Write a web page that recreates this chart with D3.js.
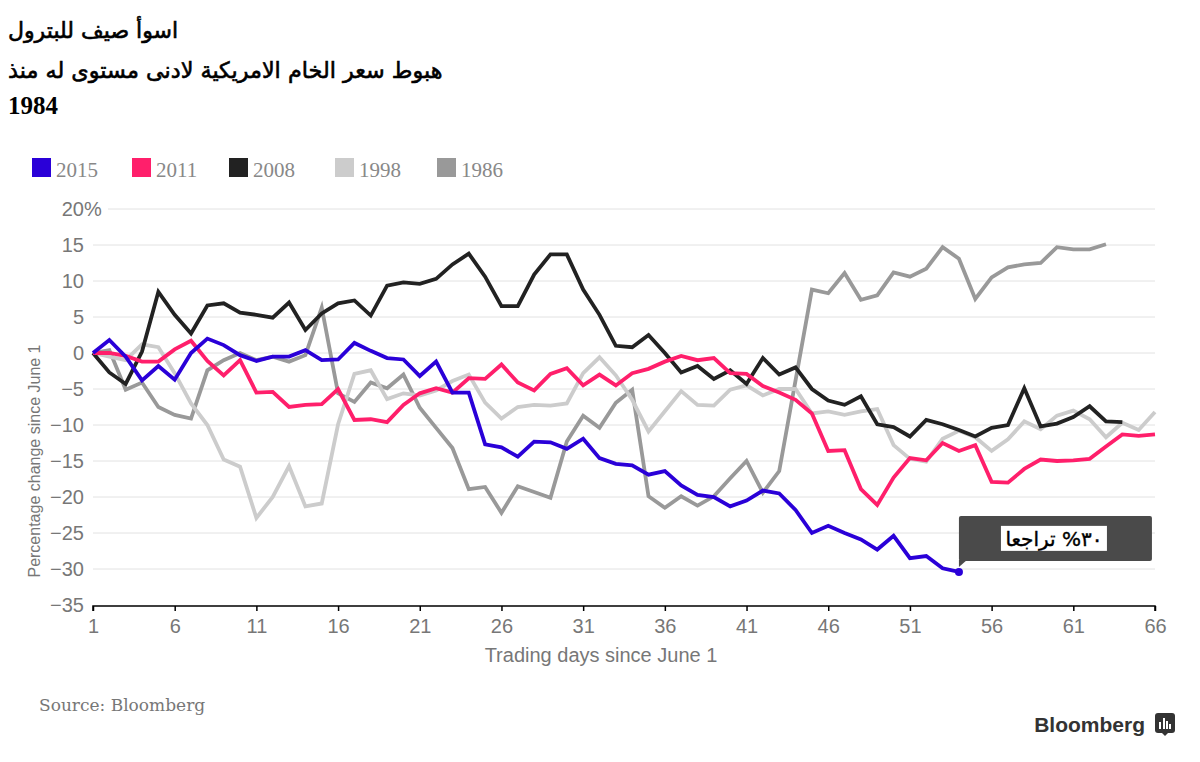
<!DOCTYPE html>
<html><head><meta charset="utf-8">
<script src="https://cdn.jsdelivr.net/npm/d3@7"></script>
<style>body{margin:0;background:#fff} svg{display:block}</style>
</head><body>
<svg id="c" width="1200" height="762"></svg>
<script>
// ---------- data ----------
const titleLine1 = "اسوأ صيف للبترول";
const titleLine2 = "هبوط سعر الخام الامريكية لادنى مستوى له منذ";
const titleLine3 = "1984";
const xAxisTitle = "Trading days since June 1";
const yAxisTitle = "Percentage change since June 1";
const sourceText = "Source: Bloomberg";
const annotationText = "٣٠% تراجعا";

const xTicks = [1, 6, 11, 16, 21, 26, 31, 36, 41, 46, 51, 56, 61, 66];
const yTicks = [-35, -30, -25, -20, -15, -10, -5, 0, 5, 10, 15, 20];

const seriesNames = ["2015", "2011", "2008", "1998", "1986"];
const seriesColors = ["#2a00d8", "#ff1f6b", "#222222", "#cccccc", "#999999"];

const v2015 = [0, 1.8, -0.5, -3.8, -1.8, -3.7, 0, 2.0, 1.1, -0.3, -1.1, -0.5, -0.5, 0.4, -1.0, -0.9,
  1.4, 0.3, -0.7, -0.9, -3.2, -1.2, -5.5, -5.5, -12.7, -13.1, -14.4, -12.3, -12.4, -13.3, -11.9,
  -14.6, -15.4, -15.6, -16.9, -16.4, -18.4, -19.7, -20.0, -21.3, -20.5, -19.1, -19.5, -21.8, -25.0,
  -24.0, -25.0, -25.9, -27.3, -25.4, -28.5, -28.2, -29.9, -30.4];
const v2011 = [0, 0, -0.4, -1.2, -1.2, 0.5, 1.7, -1.1, -3.1, -1.0, -5.5, -5.4, -7.5, -7.2, -7.1, -5.0,
  -9.3, -9.2, -9.6, -7.2, -5.6, -4.9, -5.5, -3.5, -3.6, -1.6, -4.1, -5.2, -2.9, -2.1, -4.5, -3.0,
  -4.5, -2.8, -2.2, -1.2, -0.4, -1.0, -0.7, -2.8, -2.9, -4.6, -5.5, -6.5, -8.4, -13.6, -13.5, -18.9,
  -21.1, -17.3, -14.6, -14.9, -12.5, -13.6, -12.8, -17.9, -18.0, -16.1, -14.8, -15.0, -14.9, -14.7,
  -13.0, -11.3, -11.5, -11.3];
const v2008 = [0, -2.7, -4.3, 0.2, 8.5, 5.3, 2.7, 6.6, 6.9, 5.6, 5.3, 4.9, 7.0, 3.2, 5.5, 6.9, 7.3,
  5.2, 9.35, 9.8, 9.6, 10.3, 12.3, 13.8, 10.6, 6.5, 6.5, 10.9, 13.7, 13.7, 8.8, 5.3, 1.0, 0.8, 2.5,
  0, -2.7, -1.8, -3.6, -2.4, -4.3, -0.7, -3.0, -2.0, -5.0, -6.6, -7.2, -6.0, -9.9, -10.3, -11.6,
  -9.3, -9.9, -10.7, -11.6, -10.4, -10.0, -4.9, -10.2, -9.8, -8.9, -7.4, -9.5, -9.6];
const v1998 = [0, -0.5, -1.0, 1.2, 0.8, -2.8, -7.0, -10.0, -14.8, -15.8, -22.9, -20.0, -15.7, -21.3,
  -20.9, -9.9, -2.9, -2.4, -6.4, -5.6, -5.9, -5.2, -3.9, -3.0, -6.9, -9.1, -7.5, -7.2, -7.3, -7.0,
  -2.8, -0.6, -3.1, -6.5, -10.9, -8.1, -5.3, -7.2, -7.3, -5.1, -4.5, -5.9, -5.0, -5.0, -8.4, -8.1,
  -8.6, -8.1, -7.8, -12.8, -14.7, -15.1, -11.9, -10.8, -11.7, -13.6, -12.0, -9.5, -10.6, -8.7, -8.0,
  -9.2, -11.7, -9.7, -10.7, -8.2];
const v1986 = [0, 0.4, -5.1, -4.1, -7.5, -8.6, -9.1, -2.4, -1.0, 0, -1.0, -0.5, -1.2, -0.3, 6.3, -5.6,
  -6.8, -4.1, -4.9, -3.0, -7.6, -10.4, -13.2, -18.9, -18.6, -22.2, -18.5, -19.3, -20.1, -12.3, -8.7,
  -10.4, -6.9, -5.1, -19.9, -21.5, -19.9, -21.2, -19.9, -17.4, -15.0, -19.4, -16.4, -3.8, 8.8, 8.3,
  11.1, 7.4, 8.0, 11.2, 10.6, 11.7, 14.7, 13.1, 7.5, 10.5, 11.9, 12.3, 12.5, 14.7, 14.4, 14.4, 15.1];

const seriesValues = [v2015, v2011, v2008, v1998, v1986];

// ---------- chart ----------
const svg = d3.select("#c");
const x = d3.scaleLinear().domain([1, 66]).range([93, 1155]);
const y = d3.scaleLinear().domain([-35, 20]).range([605, 209]);

const axisColor = "#777";
const sans = "'Liberation Sans', Arial, sans-serif";
const serif = "'Liberation Serif', 'Times New Roman', serif";
const wideSerif = "'DejaVu Serif', serif";
const arabic = "'DejaVu Sans', sans-serif";

// Title
svg.append("text").attr("x", 8).attr("y", 38).attr("font-family", arabic)
  .attr("font-size", 22).attr("fill", "#000").attr("stroke", "#000").attr("stroke-width", 0.6)
  .text(titleLine1);
svg.append("text").attr("x", 8).attr("y", 78).attr("font-family", arabic)
  .attr("font-size", 22.3).attr("fill", "#000").attr("stroke", "#000").attr("stroke-width", 0.6)
  .text(titleLine2);
svg.append("text").attr("x", 8).attr("y", 114).attr("font-family", serif)
  .attr("font-weight", "bold").attr("font-size", 25).attr("fill", "#000").text(titleLine3);

// Legend
const legendX = [32, 132, 229, 335, 437];
const lg = svg.append("g");
seriesNames.forEach((n, i) => {
  lg.append("rect").attr("x", legendX[i]).attr("y", 158).attr("width", 19).attr("height", 19)
    .attr("fill", seriesColors[i]);
  lg.append("text").attr("x", legendX[i] + 24).attr("y", 177).attr("font-family", serif)
    .attr("font-size", 21).attr("fill", "#888").text(n);
});

// Gridlines
const grid = svg.append("g");
yTicks.filter(t => t > -35).forEach(t => {
  grid.append("line").attr("x1", t === 20 ? 108 : 93).attr("x2", 1155)
    .attr("y1", y(t)).attr("y2", y(t)).attr("stroke", "#e2e2e2").attr("stroke-width", 1);
});

// Y tick labels
const yl = svg.append("g").attr("font-family", sans).attr("font-size", 20).attr("fill", axisColor);
yTicks.forEach(t => {
  yl.append("text").attr("x", 84).attr("y", y(t) + 7).attr("text-anchor", "end").text(d3.format("d")(t));
  if (t === 20) yl.append("text").attr("x", 84).attr("y", y(t) + 7).text("%");
});

// X axis
const xAxis = d3.axisBottom(x).tickValues(xTicks).tickSize(5).tickPadding(8).tickFormat(d3.format("d"));
const xg = svg.append("g").attr("transform", `translate(0,${y(-35) + 1})`).call(xAxis);
xg.select(".domain").attr("stroke", "#000").attr("stroke-width", 1.5).attr("d", `M93,5V0H1155V5`);
xg.selectAll(".tick line").attr("stroke", "#000").attr("stroke-width", 1.5);
xg.selectAll(".tick text").attr("font-family", sans).attr("font-size", 20).attr("fill", axisColor);

// Axis titles
svg.append("text").attr("x", 601).attr("y", 662).attr("text-anchor", "middle")
  .attr("font-family", sans).attr("font-size", 20).attr("fill", axisColor).text(xAxisTitle);
svg.append("text").attr("transform", "translate(40,461) rotate(-90)").attr("text-anchor", "middle")
  .attr("font-family", sans).attr("font-size", 16).attr("fill", axisColor).text(yAxisTitle);

// Lines (draw oldest first so 2015 is on top)
const line = d3.line().x((d, i) => x(i + 1)).y(d => y(d));
const lines = svg.append("g");
for (let i = seriesValues.length - 1; i >= 0; i--) {
  lines.append("path").datum(seriesValues[i]).attr("d", line)
    .attr("fill", "none").attr("stroke", seriesColors[i]).attr("stroke-width", 3.8);
}

// End dot + annotation
const lastIdx = v2015.length - 1;
const px = x(lastIdx + 1), py = y(v2015[lastIdx]);
svg.append("circle").attr("cx", px).attr("cy", py).attr("r", 4).attr("fill", seriesColors[0]);
const ann = svg.append("g");
ann.append("rect").attr("x", px).attr("y", py - 56).attr("width", 193).attr("height", 45)
  .attr("rx", 2).attr("fill", "#4a4a4a");
ann.append("path").attr("d", `M${px},${py - 12}L${px},${py - 5}L${px + 8},${py - 12}Z`).attr("fill", "#4a4a4a");
ann.append("rect").attr("x", px + 42).attr("y", py - 46).attr("width", 106).attr("height", 25).attr("fill", "#fff");
ann.append("text").attr("x", px + 95).attr("y", py - 26).attr("text-anchor", "middle")
  .attr("direction", "rtl").attr("font-family", arabic).attr("font-size", 20).attr("fill", "#000")
  .attr("stroke", "#000").attr("stroke-width", 0.4)
  .text(annotationText);

// Source
svg.append("text").attr("x", 39).attr("y", 711).attr("font-family", wideSerif).attr("font-size", 17)
  .attr("fill", "#777").text(sourceText);

// Bloomberg logo
svg.append("text").attr("x", 1145).attr("y", 732).attr("text-anchor", "end")
  .attr("font-family", sans).attr("font-weight", "bold").attr("font-size", 21).attr("fill", "#333")
  .text("Bloomberg");
const logo = svg.append("g").attr("transform", "translate(1155,713)");
logo.append("rect").attr("width", 20).attr("height", 20).attr("rx", 3).attr("fill", "#333");
logo.append("path").attr("d", "M7,20L10,23L13,20Z").attr("fill", "#333");
[[4, 9], [8, 5], [11, 8], [14, 11]].forEach(([bx, by]) => {
  logo.append("rect").attr("x", bx).attr("y", by).attr("width", 2).attr("height", 16 - by).attr("fill", "#fff");
});
</script>
</body></html>
